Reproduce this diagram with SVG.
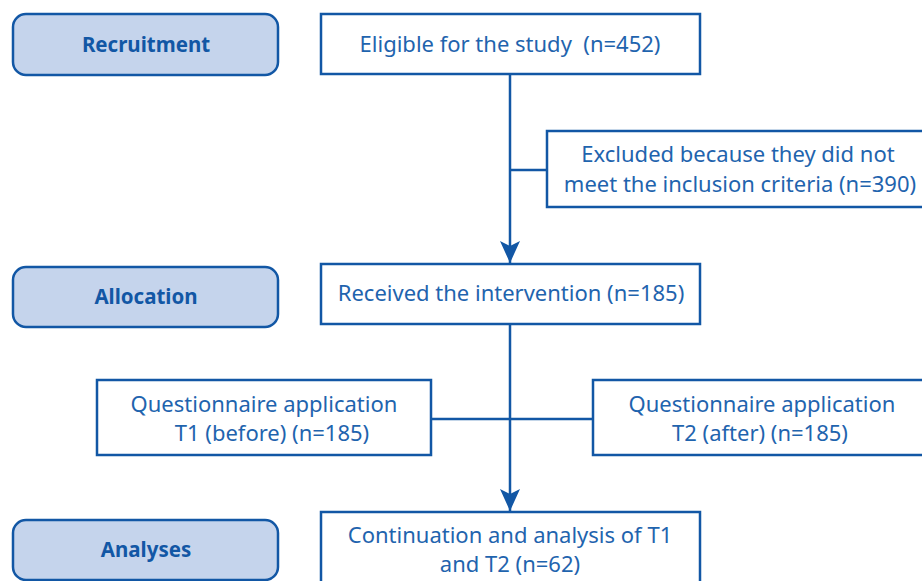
<svg xmlns="http://www.w3.org/2000/svg" width="922" height="581" viewBox="0 0 922 581">
<style>
.stage rect{fill:#c5d4ec;stroke:#1257a5;stroke-width:2.5}
.stage text{font-family:"Noto Sans","Liberation Sans",sans-serif;font-weight:bold;font-size:20.5px;fill:#1257a5;text-anchor:middle}
.box rect{fill:#fff;stroke:#1257a5;stroke-width:2.5}
.box text{font-family:"Noto Sans","Liberation Sans",sans-serif;font-size:22px;fill:#1f64ae;text-anchor:middle}
.conn path{fill:none;stroke:#1257a5;stroke-width:2.5}
</style>
<defs>
<marker id="arr" markerUnits="userSpaceOnUse" markerWidth="24" markerHeight="20" refX="22" refY="10" orient="auto" viewBox="0 0 24 20">
<path d="M0,0 L22,10 L0,20 L5,10 Z" fill="#1257a5"/>
</marker>
</defs>
<rect width="922" height="581" fill="#fff"/>
<g class="conn">
<path d="M510,74 V263" marker-end="url(#arr)"/>
<path d="M510,170 H547"/>
<path d="M510,324 V511" marker-end="url(#arr)"/>
<path d="M431,419 H593"/>
</g>
<g id="recruitment" class="stage"><rect x="13" y="14" width="265" height="61" rx="13"/><text x="146" y="52">Recruitment</text></g>
<g id="allocation" class="stage"><rect x="13" y="267" width="265" height="60" rx="13"/><text x="146" y="304">Allocation</text></g>
<g id="analyses" class="stage"><rect x="13" y="520" width="265" height="60" rx="13"/><text x="146" y="557">Analyses</text></g>
<g id="eligible" class="box"><rect x="321" y="14" width="379" height="60"/><text x="510" y="52" xml:space="preserve">Eligible for the study  (n=452)</text></g>
<g id="excluded" class="box"><rect x="547" y="131" width="380" height="76"/><text x="738" y="162">Excluded because they did not</text><text x="740" y="192">meet the inclusion criteria (n=390)</text></g>
<g id="received" class="box"><rect x="321" y="264" width="379" height="60"/><text x="511" y="301">Received the intervention (n=185)</text></g>
<g id="t1" class="box"><rect x="97" y="380" width="334" height="75"/><text x="264" y="412">Questionnaire application</text><text x="272" y="441">T1 (before) (n=185)</text></g>
<g id="t2" class="box"><rect x="593" y="380" width="334" height="75"/><text x="762" y="412">Questionnaire application</text><text x="760" y="441">T2 (after) (n=185)</text></g>
<g id="continuation" class="box"><rect x="321" y="512" width="379" height="75"/><text x="510" y="543">Continuation and analysis of T1</text><text x="510" y="572">and T2 (n=62)</text></g>
</svg>
